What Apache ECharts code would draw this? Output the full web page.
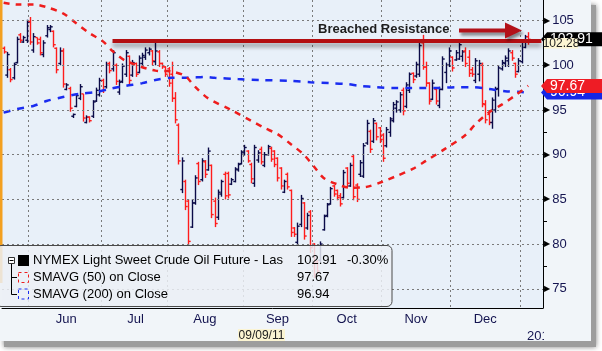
<!DOCTYPE html>
<html>
<head>
<meta charset="utf-8">
<script src="https://cdn.jsdelivr.net/npm/echarts@6/dist/echarts.min.js"></script>
<style>
  html, body { margin: 0; padding: 0; background: #fff; }
  #main { width: 602px; height: 351px; }
</style>
</head>
<body>
<div id="main"></div>
<script>
// trading calendar (category axis)
var firstDay = '2011-05-19';
var dayCount = 164;
var holidays = ['2011-05-30', '2011-07-04', '2011-09-05', '2011-11-24', '2011-12-26', '2012-01-02'];
var monthNames = ['Jan', 'Feb', 'Mar', 'Apr', 'May', 'Jun', 'Jul', 'Aug', 'Sep', 'Oct', 'Nov', 'Dec'];

// daily OHLC
var opens = [101.9,98.9,99.5,98.6,100.3,103.4,102.6,102.8,104.9,101.7,
  103.1,102.9,101.2,103.3,104.0,103.8,101.9,100.2,101.6,97.3,
  97.4,94.3,95.4,96.3,96.8,93.6,94.2,94.3,96.0,96.7,
  98.3,97.6,100.2,99.6,100.0,97.0,98.2,99.0,101.0,98.9,
  100.2,99.2,100.2,100.9,101.4,101.6,100.4,101.5,100.2,99.8,
  99.6,99.0,96.3,93.3,86.1,87.0,84.8,81.9,84.6,89.0,
  87.2,89.2,88.3,88.8,84.8,83.0,85.6,87.8,87.9,86.7,
  87.0,88.3,89.0,90.2,90.4,88.9,86.8,89.4,90.6,88.8,
  90.0,90.7,90.4,89.6,88.5,85.8,87.8,86.0,81.8,80.2,
  82.2,84.6,81.8,83.6,80.0,78.0,78.2,81.6,83.2,84.5,
  86.5,86.0,85.4,85.2,88.5,86.5,89.8,86.6,87.8,87.6,
  91.3,92.6,91.5,93.5,93.0,92.2,91.0,92.5,93.8,95.2,
  95.0,97.2,95.4,97.2,99.1,98.8,99.0,102.5,99.8,98.0,
  96.2,97.3,95.5,97.3,99.2,100.0,100.9,100.6,100.7,101.0,
  101.6,100.9,99.5,98.3,99.0,100.0,95.6,94.5,93.6,95.0,
  97.4,99.6,100.2,100.5,101.4,100.2,99.3,100.4,102.0,103.2];
var highs = [102.1,101.5,99.7,100.3,103.2,103.6,103.3,105.1,105.4,103.6,
  103.1,103.2,102.8,104.5,104.5,103.9,102.0,102.0,101.9,98.0,
  97.6,94.6,96.9,97.9,96.8,94.4,94.3,96.1,97.5,98.6,
  98.5,100.4,100.4,101.7,100.2,98.4,100.2,101.7,101.1,100.6,
  100.3,101.1,101.4,102.0,102.0,101.7,102.5,101.7,100.3,99.9,
  99.8,100.4,97.0,93.5,89.7,87.2,85.0,85.0,87.7,89.2,
  89.6,89.4,90.8,88.9,85.2,86.1,87.2,88.1,88.1,87.4,
  88.6,89.1,90.5,91.1,90.5,89.1,91.1,90.5,90.9,90.3,
  91.1,90.9,90.5,89.7,88.6,87.2,88.0,86.1,81.9,82.4,
  85.5,84.7,83.5,83.8,80.1,78.2,80.3,83.3,84.6,86.4,
  86.6,86.1,85.7,88.3,88.6,89.1,90.0,86.8,89.4,91.3,
  93.9,92.8,94.1,93.6,93.1,92.4,93.1,94.2,95.9,96.1,
  97.0,97.5,98.1,99.2,99.2,100.4,102.5,103.4,100.4,98.1,
  98.4,97.5,97.6,101.0,100.3,102.0,101.0,101.7,102.6,101.7,
  102.0,101.7,99.8,100.8,100.6,100.3,96.1,95.0,96.4,97.6,
  100.0,100.6,101.1,101.9,101.7,100.3,100.8,102.9,103.4,103.7];
var lows = [101.3,98.6,98.1,98.4,100.2,102.5,102.5,102.5,102.3,101.4,
  102.3,101.1,100.9,103.1,103.7,102.0,99.1,100.0,97.5,97.2,
  94.8,94.1,95.3,96.1,93.7,93.5,93.6,94.1,95.9,96.5,
  96.9,97.4,99.1,99.3,97.8,96.7,98.0,98.7,97.8,98.7,
  98.7,99.1,99.8,100.6,101.1,100.0,100.0,99.8,99.6,98.7,
  97.6,95.9,93.5,88.9,85.7,83.8,79.9,81.8,84.4,86.6,
  87.0,87.4,88.2,82.9,81.9,82.7,85.3,85.0,85.1,86.6,
  86.9,88.1,88.9,89.9,89.1,86.8,86.4,89.1,88.9,88.6,
  89.9,89.2,88.6,87.0,86.1,85.7,86.1,80.8,80.8,79.9,
  81.9,80.5,81.6,79.0,76.2,76.7,78.0,81.5,83.0,84.4,
  85.3,84.9,84.2,85.1,86.4,86.4,84.9,84.7,87.5,87.4,
  91.1,90.2,91.3,91.6,91.3,89.2,90.8,92.0,93.6,94.7,
  94.7,94.4,95.2,96.9,98.0,98.6,98.7,99.5,97.6,95.6,
  96.1,95.6,95.2,97.2,98.0,99.8,99.3,100.5,100.6,100.4,
  99.8,98.7,98.7,98.0,98.2,95.3,93.5,93.3,92.9,94.7,
  96.5,99.4,99.8,99.8,100.5,98.6,99.2,100.2,101.9,102.3];
var closes = [101.5,101.2,98.4,100.1,102.9,102.8,103.1,104.8,102.6,103.2,
  102.5,101.4,102.5,104.2,104.3,102.3,99.5,101.6,97.9,97.8,
  95.2,94.5,96.6,97.6,94.1,94.2,93.8,95.9,97.2,98.3,
  97.2,100.0,99.4,101.4,98.2,98.1,99.9,101.4,98.3,100.3,
  99.0,100.8,101.1,101.7,101.8,100.5,101.6,100.2,99.9,99.0,
  98.0,96.3,93.9,89.3,89.3,84.2,80.3,84.6,87.4,87.0,
  89.3,87.8,90.4,83.3,82.3,85.8,87.0,85.4,85.5,87.2,
  88.4,88.9,90.3,90.8,89.3,87.3,90.8,90.2,89.2,90.0,
  90.9,89.5,88.9,87.4,86.5,87.0,86.4,81.3,81.1,82.0,
  85.1,80.9,83.2,79.6,76.6,77.0,80.0,83.1,84.4,86.2,
  85.6,85.2,84.5,88.0,86.8,88.8,85.3,85.0,89.1,91.0,
  93.5,90.6,93.8,92.0,91.7,89.6,92.8,94.0,95.6,95.9,
  96.7,94.9,97.8,99.0,98.4,100.1,102.2,99.8,98.0,96.0,
  98.0,96.0,97.3,100.7,100.0,101.6,99.7,101.4,102.3,101.5,
  100.2,99.1,99.0,100.5,100.2,95.7,93.9,93.6,96.1,97.3,
  99.7,100.3,100.8,101.6,100.8,99.0,100.5,102.6,103.2,102.9];

// moving averages, sampled at these bar indexes
var sma50Idx = [0,4,9,13,18,22,26,30,33,37,46,51,55,58,62,69,75,79,83,87,91,94,97,101,105,110,115,119,124,128,134,140,143,147,151,155,159];
var sma50Val = [107.0,106.8,106.8,106.5,105.8,104.7,103.6,102.7,101.6,100.5,99.4,99.3,98.8,97.6,96.3,95.0,93.8,93.0,92.3,91.2,90.0,88.7,87.4,86.7,86.3,86.4,87.0,87.6,88.4,89.3,90.7,92.2,93.4,94.7,95.6,96.6,97.7];
var sma200Idx = [0,4,9,13,18,23,28,32,37,42,46,51,56,61,64,71,78,87,93,99,104,108,113,118,123,128,132,137,142,147,152,157,159];
var sma200Val = [94.7,95.1,95.45,96.0,96.45,96.8,97.0,97.35,97.7,98.0,98.35,98.6,98.6,98.7,98.6,98.45,98.35,98.25,98.1,98.0,97.9,97.7,97.55,97.45,97.45,97.45,97.45,97.55,97.55,97.35,97.1,97.0,96.94];

var yTickValues = [75, 77.5, 80, 82.5, 85, 87.5, 90, 92.5, 95, 97.5, 100, 102.5, 105];
var yLabelValues = [75, 80, 85, 90, 95, 100, 105];

var lastPrice = 102.91;
var lastChange = '-0.30%';
var sma50Last = 97.67;
var sma200Last = 96.94;
var resistanceTag = 102.28;
var resistanceDrawn = 102.7;   // where the hand-drawn line sits
var resistanceFrom = 33;       // bar index where it starts

var NAVY = '#0b0b48';
var RED = '#ff1c1c';
var FONT = 'Liberation Sans';

function tradingDays(start, n) {
  var out = [];
  var d = new Date(start + 'T00:00:00Z');
  while (out.length < n) {
    var s = d.toISOString().slice(0, 10);
    var wd = d.getUTCDay();
    if (wd !== 0 && wd !== 6 && holidays.indexOf(s) < 0) out.push(s);
    d.setUTCDate(d.getUTCDate() + 1);
  }
  return out;
}

var days = tradingDays(firstDay, dayCount);
var monthStart = {};
var starts = [];
for (var i = 1; i < days.length; i++) {
  if (days[i].slice(5, 7) !== days[i - 1].slice(5, 7)) { monthStart[i] = true; starts.push(i); }
}
var labelAt = {};
for (var k = 0; k < starts.length - 1; k++) {
  labelAt[Math.floor((starts[k] + starts[k + 1]) / 2)] = true;
}

var ohlc = opens.map(function (o, i) { return [i, o, highs[i], lows[i], closes[i]]; });

function renderBar(params, api) {
  var x0 = api.value(0);
  var o = api.value(1), c = api.value(4);
  var top = api.coord([x0, api.value(2)]);
  var bot = api.coord([x0, api.value(3)]);
  var po = api.coord([x0, o]);
  var pc = api.coord([x0, c]);
  var color = c >= o ? NAVY : RED;
  var x = Math.round(top[0]) + 0.5;
  var half = 2.2;
  function st() { return { stroke: color, lineWidth: 1.4 }; }
  return {
    type: 'group',
    children: [
      { type: 'line', shape: { x1: x, y1: top[1], x2: x, y2: bot[1] }, style: st() },
      { type: 'line', shape: { x1: x - half, y1: po[1], x2: x, y2: po[1] }, style: st() },
      { type: 'line', shape: { x1: x, y1: pc[1], x2: x + half, y2: pc[1] }, style: st() }
    ]
  };
}

var chart = echarts.init(document.getElementById('main'));

option = {
  animation: false,
  backgroundColor: '#ffffff',
  grid: {
    left: 2, top: 0, width: 541, height: 308,
    show: true, backgroundColor: '#e8f0f9', borderWidth: 0
  },
  xAxis: {
    type: 'category',
    data: days,
    boundaryGap: true,
    axisLine: { lineStyle: { color: '#000', width: 1 } },
    axisTick: {
      length: 4,
      lineStyle: { color: '#000' },
      interval: function (idx) { return !!monthStart[idx]; }
    },
    axisLabel: {
      margin: 5,
      fontFamily: FONT, fontSize: 13, color: '#141450',
      interval: function (idx) { return !!labelAt[idx]; },
      formatter: function (v) { return monthNames[+v.slice(5, 7) - 1]; }
    },
    splitLine: {
      show: true,
      interval: function (idx) { return !!monthStart[idx]; },
      lineStyle: { color: '#7a7a7a', type: [2, 3], width: 1 }
    }
  },
  yAxis: {
    type: 'value',
    position: 'right',
    min: 72.85,
    max: 107.3,
    axisLine: { show: true, lineStyle: { color: '#000', width: 1 } },
    axisTick: { show: true, length: 4, lineStyle: { color: '#000' }, customValues: yTickValues },
    axisLabel: {
      margin: 1,
      customValues: yLabelValues,
      formatter: function (v) { return '{a|\u25B6}{v|' + v + '}'; },
      rich: {
        a: { fontFamily: 'DejaVu Sans', fontSize: 8, color: '#000', padding: [0, 2, 0, 0] },
        v: { fontFamily: FONT, fontSize: 13, color: '#141450' }
      }
    },
    splitLine: { show: false }
  },
  series: [
    {
      name: 'grid', type: 'line', data: [], z: 1, silent: true,
      markLine: {
        silent: true, symbol: ['none', 'none'], label: { show: false },
        lineStyle: { color: '#7a7a7a', type: [2, 3], width: 1 },
        data: yLabelValues.map(function (v) { return { yAxis: v }; })
      }
    },
    {
      name: 'NYMEX Light Sweet Crude Oil Future',
      type: 'custom',
      renderItem: renderBar,
      encode: { x: 0, y: [1, 2, 3, 4] },
      data: ohlc,
      z: 2
    },
    {
      name: 'SMAVG (200) on Close', type: 'line', z: 3,
      data: sma200Idx.map(function (ix, k) { return [ix, sma200Val[k]]; }),
      showSymbol: false, smooth: 0.3,
      lineStyle: { color: '#1a2cf0', width: 2.5, type: [7, 7] }
    },
    {
      name: 'SMAVG (50) on Close', type: 'line', z: 3,
      data: sma50Idx.map(function (ix, k) { return [ix, sma50Val[k]]; }),
      showSymbol: false, smooth: 0.3,
      lineStyle: { color: '#ee1d1d', width: 2.5, type: [6, 6] }
    },
    {
      name: 'resistance', type: 'line', data: [], z: 4, silent: true,
      markLine: {
        silent: true, symbol: ['none', 'none'], label: { show: false },
        lineStyle: {
          color: '#b30f12', width: 4, type: 'solid',
          shadowBlur: 4, shadowOffsetY: 4, shadowColor: 'rgba(0,0,0,0.35)'
        },
        data: [[{ coord: [resistanceFrom, resistanceDrawn] }, { coord: [dayCount - 1, resistanceDrawn] }]]
      }
    }
  ]
};
chart.setOption(option);

function py(v) { return chart.convertToPixel({ yAxisIndex: 0 }, v); }

// value tag on the right axis; z keeps later tags on top of earlier ones
function tag(v, fill, text, z) {
  var y = py(v);
  return [
    { type: 'polygon', z: z,
      shape: { points: [[541, y], [547, y - 7], [602, y - 7], [602, y + 7], [547, y + 7]] },
      style: { fill: fill } },
    { type: 'text', z: z + 1, x: 550, y: y,
      style: { text: text, fill: '#fff', font: '14px "' + FONT + '"', verticalAlign: 'middle' } }
  ];
}

var FRAME = '#f1f5f9';
var g = [];
// frame with drop shadow
g.push({ type: 'rect', z: -20, shape: { x: 4, y: 5, width: 592, height: 342 },
  style: { fill: '#9d9d9d', shadowBlur: 5, shadowColor: 'rgba(0,0,0,0.5)' } });
g.push({ type: 'rect', z: -10, shape: { x: 0, y: 0, width: 591, height: 341 }, style: { fill: FRAME } });
// orange edge
g.push({ type: 'rect', z: 10, shape: { x: 0, y: 0, width: 2.5, height: 283 }, style: { fill: '#f3a020' } });

// year row
g.push({ type: 'text', z: 50, x: 527, y: 330,
  style: { text: '2012', fill: '#141450', font: '13px "' + FONT + '"' } });
g.push({ type: 'rect', z: 60, shape: { x: 544, y: 322, width: 47, height: 19 }, style: { fill: FRAME } });
g.push({ type: 'rect', z: 50, shape: { x: 238, y: 329, width: 47, height: 12 }, style: { fill: '#fbf4d2' } });
g.push({ type: 'text', z: 51, x: 261.5, y: 330,
  style: { text: '09/09/11', fill: '#222', font: '12px "' + FONT + '"', align: 'center' } });

// annotation
g.push({ type: 'text', z: 100, x: 318, y: 29.5,
  style: { text: 'Breached Resistance', fill: '#1e1e1e', font: 'bold 13px "' + FONT + '"', verticalAlign: 'middle' } });
g.push({ type: 'polygon', z: 100,
  shape: { points: [[459, 28.5], [505, 28.5], [505, 22.5], [522, 30.5], [505, 38.5], [505, 32.5], [459, 32.5]] },
  style: { fill: '#b3121a', shadowBlur: 3, shadowOffsetX: 2, shadowOffsetY: 3, shadowColor: 'rgba(0,0,0,0.45)' } });

// legend box
var lf = '13px "' + FONT + '"';
var rows = [260.5, 277.5, 294];
g.push({ type: 'rect', z: 100, shape: { x: -4, y: 245.5, width: 396, height: 61, r: 5 },
  style: { fill: 'rgba(236,240,245,0.84)', stroke: '#4a4a4a', lineWidth: 1 } });
g.push({ type: 'rect', z: 101, shape: { x: 8.5, y: 257.5, width: 6, height: 6 },
  style: { fill: '#fff', stroke: '#333', lineWidth: 1 } });
g.push({ type: 'line', z: 101, shape: { x1: 9.5, y1: 260.5, x2: 13.5, y2: 260.5 }, style: { stroke: '#000', lineWidth: 1 } });
g.push({ type: 'polyline', z: 101, shape: { points: [[11.5, 264], [11.5, 294.5], [17, 294.5]] },
  style: { stroke: '#000', lineWidth: 1, fill: null } });
g.push({ type: 'line', z: 101, shape: { x1: 11.5, y1: 277.5, x2: 17, y2: 277.5 }, style: { stroke: '#000', lineWidth: 1 } });
g.push({ type: 'rect', z: 101, shape: { x: 18, y: 255, width: 11, height: 11 }, style: { fill: '#000' } });
g.push({ type: 'rect', z: 101, shape: { x: 18.5, y: 272.5, width: 10, height: 10 },
  style: { fill: null, stroke: '#ee1d1d', lineWidth: 1, lineDash: [3, 3] } });
g.push({ type: 'rect', z: 101, shape: { x: 18.5, y: 289, width: 10, height: 10 },
  style: { fill: null, stroke: '#1a2cf0', lineWidth: 1, lineDash: [3, 3] } });
var legendRows = [
  ['NYMEX Light Sweet Crude Oil Future - Las', lastPrice.toFixed(2), lastChange],
  ['SMAVG (50) on Close', sma50Last.toFixed(2), ''],
  ['SMAVG (200) on Close', sma200Last.toFixed(2), '']
];
legendRows.forEach(function (r, k) {
  g.push({ type: 'text', z: 101, x: 33, y: rows[k], style: { text: r[0], fill: '#000', font: lf, verticalAlign: 'middle' } });
  g.push({ type: 'text', z: 101, x: 297, y: rows[k], style: { text: r[1], fill: '#000', font: lf, verticalAlign: 'middle' } });
  if (r[2]) g.push({ type: 'text', z: 101, x: 347, y: rows[k], style: { text: r[2], fill: '#000', font: lf, verticalAlign: 'middle' } });
});

// price tags on the right axis
g = g.concat(tag(lastPrice, '#000000', lastPrice.toFixed(2), 110));
g = g.concat(tag(sma200Last, '#1426e6', sma200Last.toFixed(2), 112));
g = g.concat(tag(sma50Last, '#ee1c25', sma50Last.toFixed(2), 114));
var ry = py(resistanceTag);
g.push({ type: 'rect', z: 116, shape: { x: 544, y: ry - 7, width: 34, height: 10.5 }, style: { fill: '#fdf6d3' } });
g.push({ type: 'text', z: 117, x: 561, y: ry - 1.5,
  style: { text: resistanceTag.toFixed(2), fill: '#222', font: '12px "' + FONT + '"', align: 'center', verticalAlign: 'middle' } });

chart.setOption({ graphic: { elements: g } });
</script>
</body>
</html>
